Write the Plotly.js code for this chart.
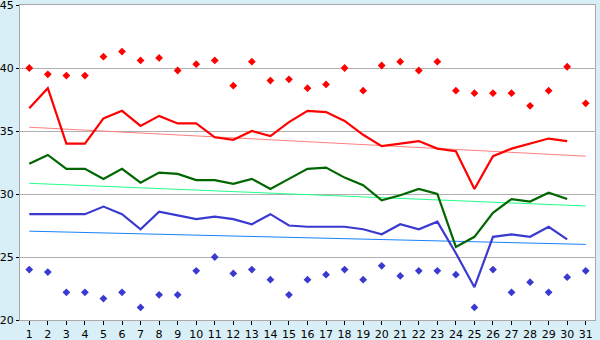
<!DOCTYPE html>
<html><head><meta charset="utf-8">
<script src="https://cdn.plot.ly/plotly-3.0.1.min.js"></script>
<style>html,body{margin:0;padding:0;background:#d9eff7;}#chart{width:600px;height:340px;}</style>
</head><body><div id="chart"></div>
<script>
var days = [];
for (var d = 1; d <= 31; d++) days.push(d);
var daysLine = days.slice(0, 30);

var maxTemp = [36.8,38.4,34.0,34.0,36.0,36.6,35.4,36.2,35.6,35.6,34.5,34.3,35.0,34.6,35.7,36.6,36.5,35.8,34.7,33.8,34.0,34.2,33.6,33.4,30.4,33.0,33.6,34.0,34.4,34.2];
var meanTemp = [32.4,33.1,32.0,32.0,31.2,32.0,30.9,31.7,31.6,31.1,31.1,30.8,31.2,30.4,31.2,32.0,32.1,31.3,30.7,29.5,29.9,30.4,30.0,25.8,26.6,28.5,29.6,29.4,30.1,29.6];
var minTemp = [28.4,28.4,28.4,28.4,29.0,28.4,27.2,28.6,28.3,28.0,28.2,28.0,27.6,28.4,27.5,27.4,27.4,27.4,27.2,26.8,27.6,27.2,27.8,25.3,22.6,26.6,26.8,26.6,27.4,26.4];
var recordHigh = [40.0,39.5,39.4,39.4,40.9,41.3,40.6,40.8,39.8,40.3,40.6,38.6,40.5,39.0,39.1,38.4,38.7,40.0,38.2,40.2,40.5,39.8,40.5,38.2,38.0,38.0,38.0,37.0,38.2,40.1,37.2];
var recordLow = [24.0,23.8,22.2,22.2,21.7,22.2,21.0,22.0,22.0,23.9,25.0,23.7,24.0,23.2,22.0,23.2,23.6,24.0,23.2,24.3,23.5,23.9,23.9,23.6,21.0,24.0,22.2,23.0,22.2,23.4,23.9];
var trendX = [1, 31];
var maxTrend = [35.3, 33.0];
var meanTrend = [30.85, 29.05];
var minTrend = [27.05, 26.0];
var yTicks = [20,25,30,35,40,45];

var traces = [
  {x: trendX, y: maxTrend, mode: 'lines', line: {color: '#ff7f7f', width: 1}},
  {x: trendX, y: meanTrend, mode: 'lines', line: {color: '#22ff88', width: 1}},
  {x: trendX, y: minTrend, mode: 'lines', line: {color: '#1a80ff', width: 1}},
  {x: days, y: recordHigh, mode: 'markers', marker: {symbol: 'diamond', size: 6, color: '#ff0000'}},
  {x: days, y: recordLow, mode: 'markers', marker: {symbol: 'diamond', size: 6, color: '#3a3ad0'}},
  {x: daysLine, y: maxTemp, mode: 'lines', line: {color: '#ff0000', width: 2.2}},
  {x: daysLine, y: meanTemp, mode: 'lines', line: {color: '#006600', width: 2.2}},
  {x: daysLine, y: minTemp, mode: 'lines', line: {color: '#3a3ad0', width: 2.2}}
];

var layout = {
  width: 600, height: 340,
  margin: {l: 20, r: 5, t: 5, b: 20, pad: 0},
  paper_bgcolor: '#d9eff7',
  plot_bgcolor: '#ffffff',
  showlegend: false,
  font: {family: 'DejaVu Sans', size: 11, color: '#000000'},
  xaxis: {
    range: [0.5, 31.5], tickvals: days, ticktext: days.map(String),
    showgrid: false, zeroline: false,
    showline: true, linecolor: '#a8a8a8', linewidth: 1, mirror: true,
    ticks: 'outside', ticklen: 4, tickcolor: '#000000', tickwidth: 1,
    ticklabeloverflow: 'allow',
    tickfont: {family: 'DejaVu Sans', size: 11, color: '#000'}, fixedrange: true
  },
  yaxis: {
    range: [20, 45], tickvals: yTicks, ticktext: yTicks.map(String),
    showgrid: true, gridcolor: '#b0b0b0', gridwidth: 1, zeroline: false,
    showline: true, linecolor: '#a8a8a8', linewidth: 1, mirror: true,
    ticks: 'outside', ticklen: 3, tickcolor: '#000000', tickwidth: 1,
    ticklabeloverflow: 'allow',
    tickfont: {family: 'DejaVu Sans', size: 11, color: '#000'}, fixedrange: true
  }
};
Plotly.newPlot('chart', traces, layout, {displayModeBar: false, staticPlot: true});
</script></body></html>
